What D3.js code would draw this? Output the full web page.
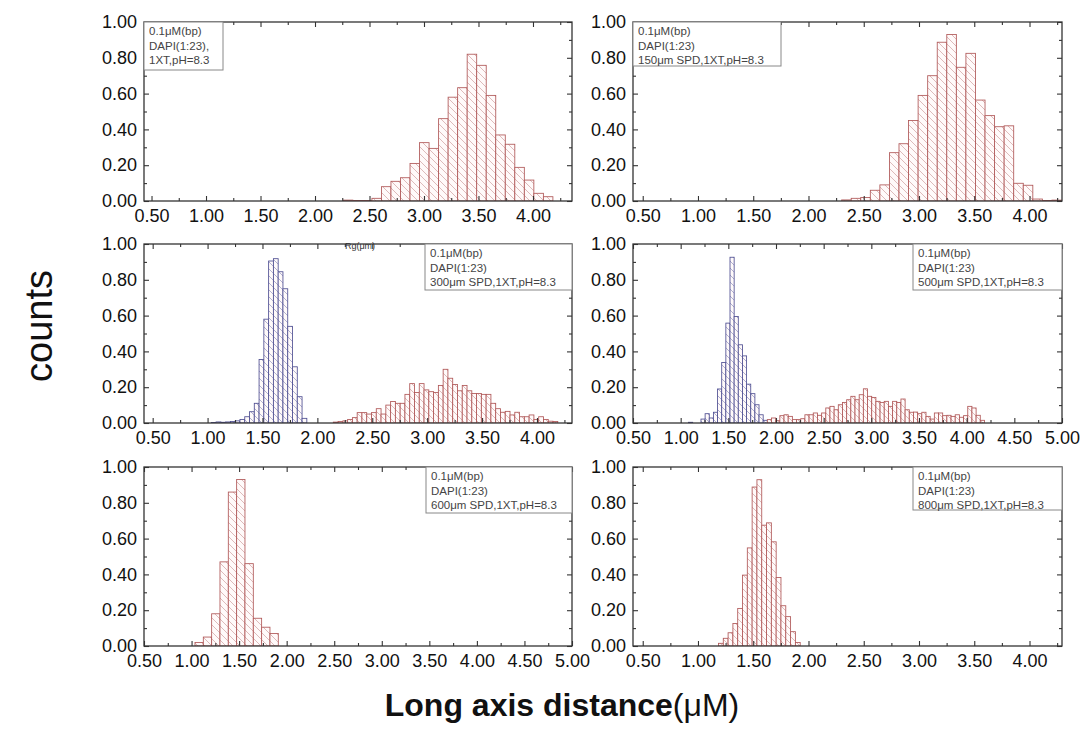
<!DOCTYPE html>
<html>
<head>
<meta charset="utf-8">
<script src="https://cdn.jsdelivr.net/npm/d3@7"></script>
<style>
  body { margin: 0; background: #fff; }
  svg { display: block; font-family: "Liberation Sans", Arial, sans-serif; }
</style>
</head>
<body>
<div id="chart"></div>
<script>
// histogram data (counts normalised to peak ~1)
const yTicks = [0, 0.2, 0.4, 0.6, 0.8, 1.0];
const xTicksShort = [0.5, 1.0, 1.5, 2.0, 2.5, 3.0, 3.5, 4.0];
const xTicksLong = [0.5, 1.0, 1.5, 2.0, 2.5, 3.0, 3.5, 4.0, 4.5, 5.0];

const narrowBin = 0.0435;

// 0 SPD
const tlStart = 2.26;
const tlRed = [0.005, 0.003, 0.003, 0.015, 0.08, 0.11, 0.13, 0.21, 0.326, 0.294, 0.46,
  0.58, 0.633, 0.82, 0.758, 0.59, 0.369, 0.317, 0.188, 0.117, 0.043, 0.024];

// 150 SPD
const trStart = 2.30;
const trRed = [0.006, 0.015, 0.02, 0.06, 0.09, 0.27, 0.32, 0.45, 0.59, 0.70, 0.887,
  0.93, 0.747, 0.825, 0.564, 0.477, 0.415, 0.42, 0.099, 0.088, 0.011, 0.003, 0.005];

// 300 SPD
const mlBlueStart = 1.034;
const mlBlue = [0.003, 0.006, 0.004, 0.006, 0.008, 0.012, 0.02, 0.035, 0.063, 0.11,
  0.355, 0.58, 0.905, 0.918, 0.845, 0.75, 0.54, 0.314, 0.147, 0.026];
const mlRedStart = 2.145;
const mlRed = [0.005, 0.008, 0.012, 0.02, 0.03, 0.058, 0.058, 0.05, 0.058, 0.08,
  0.05, 0.1, 0.12, 0.11, 0.11, 0.16, 0.22, 0.17, 0.22, 0.185,
  0.175, 0.17, 0.21, 0.3, 0.25, 0.215, 0.18, 0.21, 0.18, 0.165,
  0.165, 0.16, 0.16, 0.11, 0.08, 0.06, 0.065, 0.045, 0.06, 0.035,
  0.035, 0.045, 0.02, 0.035, 0.02, 0.01, 0.008];

// 500 SPD
const mrBlueStart = 1.0825;
const mrBlue = [0.004, 0, 0, 0.022, 0.052, 0.028, 0.06, 0.19, 0.338, 0.558,
  0.926, 0.595, 0.437, 0.375, 0.217, 0.164, 0.102, 0.046, 0.015];
const mrRedStart = 1.909;
const mrRed = [0.019, 0.028, 0.013, 0.041, 0.046, 0.037, 0.019, 0.019, 0.024, 0.046,
  0.046, 0.056, 0.043, 0.056, 0.084, 0.093, 0.074, 0.102, 0.115, 0.13,
  0.149, 0.13, 0.158, 0.191, 0.149, 0.143, 0.121, 0.115, 0.121, 0.093,
  0.121, 0.115, 0.134, 0.074, 0.06, 0.061, 0.052, 0.06, 0.037, 0.022,
  0.056, 0.056, 0.041, 0.043, 0.037, 0.046, 0.032, 0.041, 0.093, 0.084,
  0.043, 0.015];

// 600 SPD
const blStart = 1.036;
const blRed = [0.02, 0.05, 0.18, 0.47, 0.86, 0.93, 0.46, 0.155, 0.105, 0.07];

// 800 SPD
const brStart = 1.1855;
const brRed = [0.015, 0.043, 0.074, 0.126, 0.21, 0.396, 0.548, 0.888, 0.929, 0.675,
  0.688, 0.582, 0.383, 0.225, 0.164, 0.08, 0.02];

const legendTL = ['0.1\u03bcM(bp)', 'DAPI(1:23),', '1XT,pH=8.3'];
const legendTR = ['0.1\u03bcM(bp)', 'DAPI(1:23)', '150\u03bcm SPD,1XT,pH=8.3'];
const legendML = ['0.1\u03bcM(bp)', 'DAPI(1:23)', '300\u03bcm SPD,1XT,pH=8.3'];
const legendMR = ['0.1\u03bcM(bp)', 'DAPI(1:23)', '500\u03bcm SPD,1XT,pH=8.3'];
const legendBL = ['0.1\u03bcM(bp)', 'DAPI(1:23)', '600\u03bcm SPD,1XT,pH=8.3'];
const legendBR = ['0.1\u03bcM(bp)', 'DAPI(1:23)', '800\u03bcm SPD,1XT,pH=8.3'];

const W = 1081, H = 744;
const RED = { stroke: '#b05858', hatch: '#d9b3b3', id: 'hatchRed' };
const BLUE = { stroke: '#4f4f92', hatch: '#a9a9cc', id: 'hatchBlue' };

const cols = [[144, 572], [633, 1062]];
const rows = [[22, 201], [244, 423], [467, 646]];

const panels = [
  { col: 0, row: 0, domain: [0.431, 4.358], ticks: xTicksShort,
    series: [{ start: tlStart, w: 0.0874, vals: tlRed, c: RED }],
    legend: legendTL, box: { side: 'left', w: 79, h: 48 } },
  { col: 1, row: 0, domain: [0.412, 4.294], ticks: xTicksShort,
    series: [{ start: trStart, w: 0.0865, vals: trRed, c: RED }],
    legend: legendTR, box: { side: 'left', w: 148, h: 44 } },
  { col: 0, row: 1, domain: [0.421, 4.319], ticks: xTicksShort,
    series: [{ start: mlBlueStart, w: narrowBin, vals: mlBlue, c: BLUE },
             { start: mlRedStart, w: narrowBin, vals: mlRed, c: RED }],
    legend: legendML, box: { side: 'right', w: 147, h: 46 }, rg: true },
  { col: 1, row: 1, domain: [0.5, 5.0], ticks: xTicksLong,
    series: [{ start: mrBlueStart, w: narrowBin, vals: mrBlue, c: BLUE },
             { start: mrRedStart, w: 0.0438, vals: mrRed, c: RED }],
    legend: legendMR, box: { side: 'right', w: 149, h: 46 } },
  { col: 0, row: 2, domain: [0.5, 5.0], ticks: xTicksLong,
    series: [{ start: blStart, w: 0.0876, vals: blRed, c: RED }],
    legend: legendBL, box: { side: 'right', w: 146, h: 46 } },
  { col: 1, row: 2, domain: [0.412, 4.294], ticks: xTicksShort,
    series: [{ start: brStart, w: narrowBin, vals: brRed, c: RED }],
    legend: legendBR, box: { side: 'right', w: 149, h: 43 } }
];

const svg = d3.select('#chart').append('svg')
  .attr('width', W).attr('height', H)
  .attr('viewBox', `0 0 ${W} ${H}`);

const defs = svg.append('defs');
[RED, BLUE].forEach(c => {
  const p = defs.append('pattern')
    .attr('id', c.id)
    .attr('patternUnits', 'userSpaceOnUse')
    .attr('width', 7).attr('height', 7);
  p.append('rect').attr('width', 7).attr('height', 7).attr('fill', '#fffafa');
  p.append('path')
    .attr('d', 'M-1,-1 L8,8 M-1,6 L1,8 M6,-1 L8,1')
    .attr('stroke', c.hatch)
    .attr('stroke-width', 0.9);
});

const fmt = d3.format('.2f');

panels.forEach((p, i) => {
  const [x0, x1] = cols[p.col];
  const [y0, y1] = rows[p.row];
  const x = d3.scaleLinear().domain(p.domain).range([x0, x1]);
  const y = d3.scaleLinear().domain([0, 1]).range([y1, y0]);

  const g = svg.append('g').attr('class', 'panel');

  defs.append('clipPath').attr('id', 'clip' + i)
    .append('rect').attr('x', x0).attr('y', y0)
    .attr('width', x1 - x0).attr('height', y1 - y0);

  // bars
  const barG = g.append('g').attr('clip-path', `url(#clip${i})`);
  p.series.forEach(s => {
    const bins = s.vals.map((v, k) => ({ a: s.start + k * s.w, b: s.start + (k + 1) * s.w, v }))
      .filter(d => d.v > 0);
    barG.selectAll(null).data(bins).enter().append('rect')
      .attr('x', d => x(d.a))
      .attr('width', d => x(d.b) - x(d.a))
      .attr('y', d => y(d.v))
      .attr('height', d => y(0) - y(d.v))
      .attr('fill', `url(#${s.c.id})`)
      .attr('stroke', s.c.stroke)
      .attr('stroke-width', 0.85);
  });

  // minor ticks
  const xMinor = d3.range(p.ticks[0] - 0.25, p.domain[1] + 0.001, 0.25)
    .filter(v => v >= p.domain[0] && !p.ticks.some(t => Math.abs(t - v) < 1e-6));
  const yMinor = [0.1, 0.3, 0.5, 0.7, 0.9];

  const axStyle = sel => {
    sel.select('.domain').remove();
    sel.selectAll('line').attr('stroke', '#333').attr('stroke-width', 1.1);
  };

  g.append('g').attr('transform', `translate(0,${y1})`)
    .call(d3.axisBottom(x).tickValues(p.ticks).tickSize(-5).tickPadding(8).tickFormat(fmt))
    .call(axStyle)
    .call(s => s.selectAll('text').attr('font-size', 18).attr('fill', '#111')
      .attr('font-family', '"Liberation Sans", Arial, sans-serif'));
  g.append('g').attr('transform', `translate(0,${y1})`)
    .call(d3.axisBottom(x).tickValues(xMinor).tickSize(-3).tickFormat(''))
    .call(axStyle);
  g.append('g').attr('transform', `translate(0,${y0})`)
    .call(d3.axisTop(x).tickValues(p.ticks).tickSize(-5).tickFormat(''))
    .call(axStyle);
  g.append('g').attr('transform', `translate(0,${y0})`)
    .call(d3.axisTop(x).tickValues(xMinor).tickSize(-3).tickFormat(''))
    .call(axStyle);

  g.append('g').attr('transform', `translate(${x0},0)`)
    .call(d3.axisLeft(y).tickValues(yTicks).tickSize(-5).tickPadding(7).tickFormat(fmt))
    .call(axStyle)
    .call(s => s.selectAll('text').attr('font-size', 18).attr('fill', '#111')
      .attr('font-family', '"Liberation Sans", Arial, sans-serif'));
  g.append('g').attr('transform', `translate(${x0},0)`)
    .call(d3.axisLeft(y).tickValues(yMinor).tickSize(-3).tickFormat(''))
    .call(axStyle);
  g.append('g').attr('transform', `translate(${x1},0)`)
    .call(d3.axisRight(y).tickValues(yTicks).tickSize(-5).tickFormat(''))
    .call(axStyle);
  g.append('g').attr('transform', `translate(${x1},0)`)
    .call(d3.axisRight(y).tickValues(yMinor).tickSize(-3).tickFormat(''))
    .call(axStyle);

  // frame
  g.append('rect')
    .attr('x', x0).attr('y', y0)
    .attr('width', x1 - x0).attr('height', y1 - y0)
    .attr('fill', 'none').attr('stroke', '#333').attr('stroke-width', 1.3);

  // legend box
  const bx = p.box.side === 'left' ? x0 : x1 - p.box.w;
  const lg = g.append('g');
  lg.append('rect')
    .attr('x', bx).attr('y', y0)
    .attr('width', p.box.w).attr('height', p.box.h)
    .attr('fill', '#fff').attr('stroke', '#888').attr('stroke-width', 1);
  lg.selectAll('text').data(p.legend).enter().append('text')
    .attr('x', bx + 5)
    .attr('y', (d, k) => y0 + 13 + k * 14.5)
    .attr('font-size', 11.5)
    .attr('fill', '#444')
    .text(d => d);

  if (p.rg) {
    g.append('text')
      .attr('x', 360).attr('y', y0 + 5)
      .attr('text-anchor', 'middle')
      .attr('font-size', 9)
      .attr('fill', '#333')
      .text('Rg(\u03bcm)');
  }
});

// axis titles
svg.append('text')
  .attr('transform', 'translate(52,326) rotate(-90)')
  .attr('text-anchor', 'middle')
  .attr('font-size', 38)
  .attr('fill', '#111')
  .text('counts');

const title = svg.append('text')
  .attr('x', 562).attr('y', 716)
  .attr('text-anchor', 'middle')
  .attr('font-size', 32)
  .attr('fill', '#111');
title.append('tspan').attr('font-weight', 'bold').text('Long axis distance');
title.append('tspan').text('(\u03bcM)');
</script>
</body>
</html>
